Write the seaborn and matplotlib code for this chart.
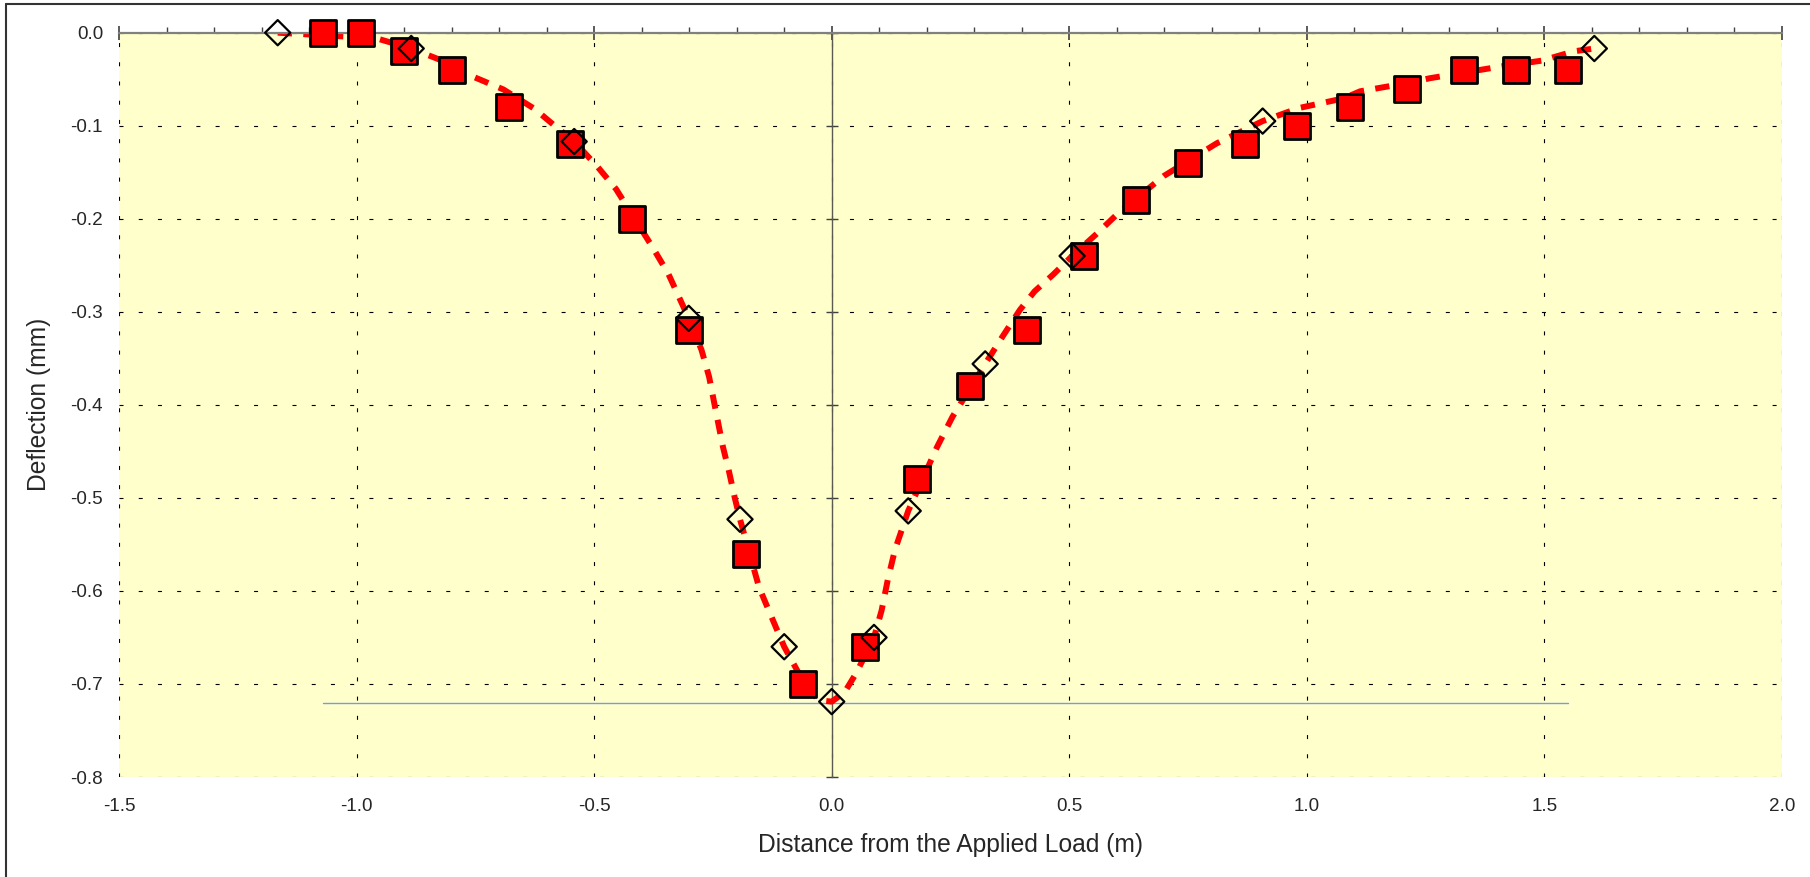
import matplotlib
matplotlib.use("Agg")
import matplotlib.pyplot as plt
from matplotlib.lines import Line2D
import seaborn as sns
import numpy as np

# measured deflections (squares)
meas_x = [-1.07, -0.99, -0.90, -0.80, -0.68, -0.55, -0.42, -0.30, -0.18, -0.06,
          0.07, 0.18, 0.29, 0.41, 0.53, 0.64, 0.75, 0.87, 0.98, 1.09,
          1.21, 1.33, 1.44, 1.55]
meas_y = [0.00, 0.00, -0.02, -0.04, -0.08, -0.12, -0.20, -0.32, -0.56, -0.70,
          -0.66, -0.48, -0.38, -0.32, -0.24, -0.18, -0.14, -0.12, -0.10, -0.08,
          -0.06, -0.04, -0.04, -0.04]

# predicted deflections (diamonds)
pred_x = [-1.166, -0.885, -0.542, -0.301, -0.193, -0.100, 0.0, 0.089, 0.161,
          0.323, 0.506, 0.907, 1.605]
pred_y = [0.0, -0.017, -0.117, -0.307, -0.523, -0.660, -0.719, -0.650, -0.514,
          -0.356, -0.240, -0.095, -0.017]

# smoothed prediction curve
curve_x = [-1.166, -1.028, -0.965, -0.885, -0.825, -0.756, -0.691, -0.625, -0.583,
           -0.542, -0.493, -0.454, -0.379, -0.344, -0.301, -0.274, -0.258, -0.243,
           -0.229, -0.216, -0.204, -0.193, -0.153, -0.130, -0.100, -0.071, -0.039,
           -0.018, 0.0, 0.027, 0.052, 0.089, 0.105, 0.118, 0.133, 0.161, 0.222,
           0.254, 0.323, 0.359, 0.396, 0.427, 0.466, 0.506, 0.558, 0.603, 0.699,
           0.810, 0.907, 0.983, 1.078, 1.112, 1.224, 1.258, 1.412, 1.495, 1.562,
           1.605]
curve_y = [0.0, -0.004, -0.005, -0.017, -0.029, -0.047, -0.061, -0.082, -0.100,
           -0.117, -0.144, -0.168, -0.229, -0.259, -0.307, -0.341, -0.370, -0.409,
           -0.445, -0.472, -0.500, -0.523, -0.596, -0.624, -0.660, -0.687, -0.712,
           -0.718, -0.719, -0.709, -0.688, -0.650, -0.621, -0.588, -0.556, -0.514,
           -0.445, -0.413, -0.356, -0.327, -0.298, -0.278, -0.260, -0.240, -0.216,
           -0.194, -0.154, -0.119, -0.095, -0.081, -0.0705, -0.063, -0.053, -0.049,
           -0.036, -0.030, -0.020, -0.017]

max_defl = -0.72
x_ticks = [-1.5, -1.0, -0.5, 0.0, 0.5, 1.0, 1.5, 2.0]
y_ticks = [0.0, -0.1, -0.2, -0.3, -0.4, -0.5, -0.6, -0.7, -0.8]

sns.set_style("white")
plt.rcParams['font.family'] = ['Liberation Sans', 'DejaVu Sans']

fig = plt.figure(figsize=(18.1, 8.77), dpi=100)
ax = fig.add_axes([119 / 1810, 1 - 777 / 877, (1782 - 119) / 1810, (777 - 32.7) / 877])
ax.set_facecolor('#FFFFCC')

ax.set_xlim(-1.5, 2.0)
ax.set_ylim(-0.8, 0.0)
ax.set_xticks(x_ticks)
ax.set_xticks(np.arange(-1.5, 2.01, 0.1), minor=True)
ax.set_yticks(y_ticks)
ax.set_xticklabels([f"{v:.1f}" for v in x_ticks])
ax.set_yticklabels([f"{v:.1f}" for v in y_ticks])

ax.grid(True, which='major', color='black', linewidth=0.8,
        linestyle=(0, (3.6, 13.7)))

# axis line along y = 0 (top), with ticks, labels kept at the bottom
for s in ['left', 'bottom']:
    ax.spines[s].set_visible(False)
ax.spines['top'].set_color('#808080')
ax.spines['top'].set_linewidth(1.6)
ax.spines['right'].set_position(('data', 0))
ax.spines['right'].set_color('#5a5a50')
ax.spines['right'].set_linewidth(1.0)
ax.spines['right'].set_zorder(1.5)

ax.tick_params(axis='x', which='major', top=True, bottom=False, labeltop=False,
               labelbottom=True, direction='inout', length=10, width=1.2,
               color='#404040', labelsize=13.6, pad=10)
ax.tick_params(axis='x', which='minor', top=True, bottom=False, direction='out',
               length=4.5, width=1.0, color='#404040')
ax.tick_params(axis='y', which='major', left=False, right=True, labelleft=True,
               labelright=False, direction='inout', length=8, width=1.0,
               color='#404040', labelsize=13.6, pad=7.5)

ax.plot([meas_x[0], meas_x[-1]], [max_defl, max_defl], color='#7a9ad8',
        linewidth=1.0, zorder=1.6)

sns.lineplot(x=curve_x, y=curve_y, sort=False, estimator=None, ax=ax,
             color='red', linewidth=4.3, linestyle=(0, (2.4, 1.9)), zorder=2)
sns.scatterplot(x=meas_x, y=meas_y, ax=ax, marker='s', s=345, color='red',
                edgecolor='black', linewidth=2.0, zorder=3, clip_on=False)
sns.scatterplot(x=pred_x, y=pred_y, ax=ax, marker='D', s=165, facecolor='none',
                edgecolor='black', linewidth=1.6, zorder=4, clip_on=False)

ax.set_xlabel('Distance from the Applied Load (m)', fontsize=17.7, labelpad=13)
ax.set_ylabel('Deflection (mm)', fontsize=17.7, labelpad=14)

# chart frame, cut at the right and bottom like the source image
fig.add_artist(Line2D([5.7 / 1810, 5.7 / 1810], [0, 1 - 4 / 877], color='#333333',
                      linewidth=1.5, transform=fig.transFigure))
fig.add_artist(Line2D([5.7 / 1810, 1], [1 - 4 / 877, 1 - 4 / 877], color='#333333',
                      linewidth=1.5, transform=fig.transFigure))

fig.savefig('out.png', dpi=100)
